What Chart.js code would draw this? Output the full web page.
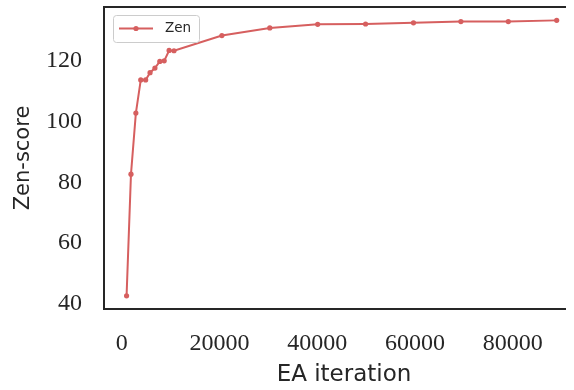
<!DOCTYPE html>
<html><head><meta charset="utf-8">
<script src="https://cdn.jsdelivr.net/npm/chart.js@4/dist/chart.umd.min.js"></script>
<style>html,body{margin:0;padding:0;background:#fff;overflow:hidden}#wrap{width:574px;height:390px;overflow:hidden}</style>
</head><body>
<div id="wrap"><canvas id="c" width="584" height="390"></canvas></div>
<script>
const seriesName = 'Zen';
const iterations = [1000, 1900, 2900, 3900, 4900, 5800, 6800, 7800, 8700, 9700, 10700,
                    20500, 30300, 40100, 49900, 59700, 69400, 79100, 89000];
const zenScores  = [42.7, 82.7, 102.8, 113.7, 113.7, 116.1, 117.6, 119.8, 120.0, 123.4, 123.3,
                    128.3, 130.8, 132.0, 132.1, 132.5, 132.9, 132.9, 133.3];
const xTicks = [0, 20000, 40000, 60000, 80000];
const yTicks = [40, 60, 80, 100, 120];
const xTitle = 'EA iteration';
const yTitle = 'Zen-score';

const red = '#d65f5f';
const dark = '#262626';

const framePlugin = {
  id: 'frame',
  afterDraw(chart) {
    const ctx = chart.ctx, a = chart.chartArea;
    ctx.save();
    ctx.strokeStyle = dark; ctx.lineWidth = 2;
    ctx.beginPath();
    ctx.moveTo(a.left - 1, a.top); ctx.lineTo(566, a.top);
    ctx.moveTo(a.left - 1, a.bottom); ctx.lineTo(566, a.bottom);
    ctx.stroke();

    const ds = chart.data.datasets[0];
    const bx = a.left + 9.5, by = a.top + 8.5, bw = 86, bh = 27;
    ctx.fillStyle = 'rgba(255,255,255,0.8)';
    ctx.strokeStyle = '#cccccc'; ctx.lineWidth = 1;
    ctx.beginPath(); ctx.roundRect(bx, by, bw, bh, 3); ctx.fill(); ctx.stroke();

    const cy = by + 13;
    const lx0 = a.left + 15, lx1 = lx0 + 34;
    ctx.strokeStyle = ds.borderColor; ctx.lineWidth = 2;
    ctx.beginPath(); ctx.moveTo(lx0, cy); ctx.lineTo(lx1, cy); ctx.stroke();
    ctx.fillStyle = ds.borderColor;
    ctx.beginPath(); ctx.arc((lx0 + lx1) / 2, cy, 2.6, 0, Math.PI * 2); ctx.fill();

    ctx.fillStyle = dark;
    ctx.font = '13.5px "DejaVu Sans"';
    ctx.textBaseline = 'middle';
    ctx.textAlign = 'left';
    ctx.fillText(ds.label, a.left + 61, cy);
    ctx.restore();
  }
};

new Chart(document.getElementById('c'), {
  type: 'line',
  data: {
    datasets: [{
      label: seriesName,
      data: iterations.map((x, i) => ({x: x, y: zenScores[i]})),
      borderColor: red,
      backgroundColor: red,
      borderWidth: 2,
      pointRadius: 2.6,
      pointHoverRadius: 2.6,
      pointBorderWidth: 0,
      tension: 0,
      pointStyle: 'circle'
    }]
  },
  options: {
    responsive: false,
    devicePixelRatio: 1,
    animation: false,
    layout: { autoPadding: false, padding: { top: 7, right: 0, left: 0, bottom: 0 } },
    plugins: {
      tooltip: { enabled: false },
      legend: { display: false }
    },
    scales: {
      x: {
        type: 'linear',
        min: -3620,
        max: 94590,
        afterBuildTicks(s) { s.ticks = xTicks.map(v => ({value: v})); },
        afterFit(s) { s.height = 81; s.paddingLeft = 0; s.paddingRight = 0; },
        grid: { display: false, drawTicks: false },
        border: { display: false },
        ticks: {
          padding: 20,
          color: dark,
          maxRotation: 0,
          autoSkip: false,
          font: { family: 'Liberation Serif', size: 24 },
          callback: v => String(v)
        },
        title: {
          display: true, text: xTitle, color: dark,
          font: { family: 'DejaVu Sans', size: 23 },
          padding: { top: 0, bottom: 1 }
        }
      },
      y: {
        type: 'linear',
        min: 38.35,
        max: 137.7,
        afterBuildTicks(s) { s.ticks = yTicks.map(v => ({value: v})); },
        afterFit(s) { s.width = 104; s.paddingTop = 0; s.paddingBottom = 0; },
        grid: { display: false, drawTicks: false },
        border: { display: true, color: dark, width: 2 },
        ticks: {
          padding: 22,
          color: dark,
          font: { family: 'Liberation Serif', size: 24 },
          callback: v => String(v)
        },
        title: {
          display: true, text: yTitle, color: dark,
          font: { family: 'DejaVu Sans', size: 21 },
          padding: { top: 11, bottom: 0 }
        }
      }
    }
  },
  plugins: [framePlugin]
});
</script>
</body></html>
